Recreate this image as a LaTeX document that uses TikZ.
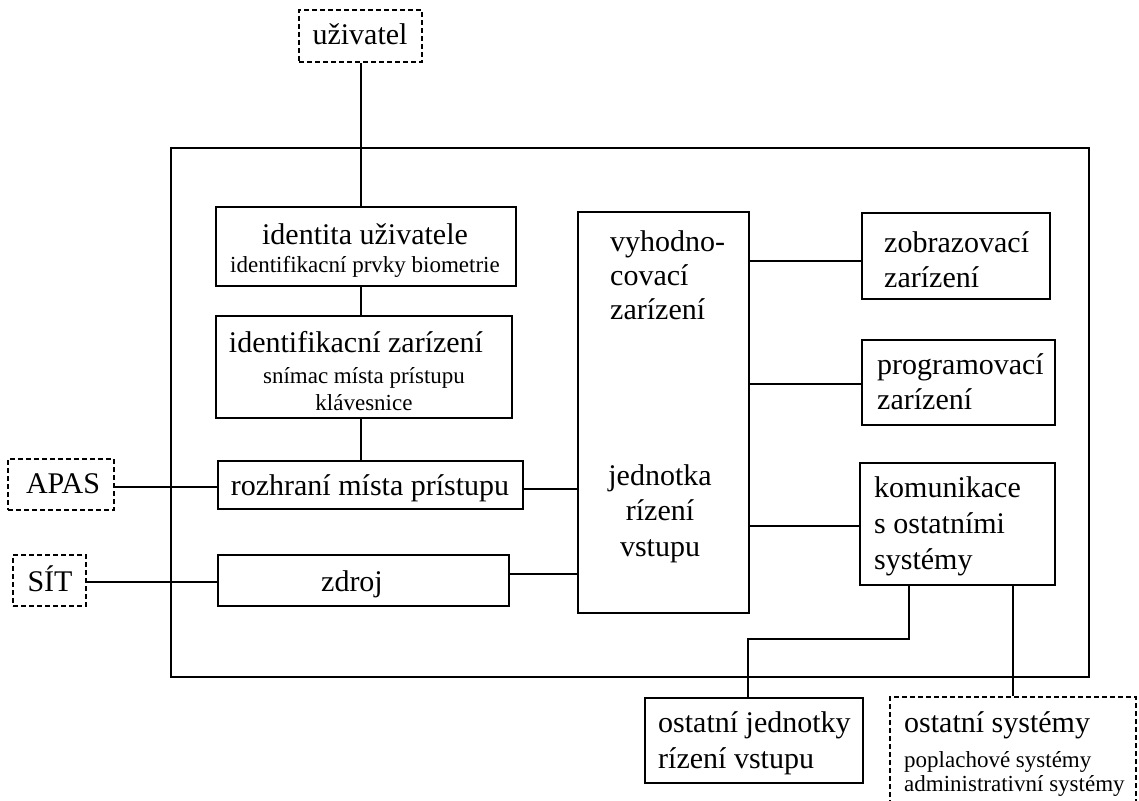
\documentclass[tikz,border=0pt]{standalone}
\usepackage{fontspec}
\setmainfont{Liberation Serif}
\newcommand\fbig{\fontsize{30}{36}\selectfont}
\newcommand\fsmall{\fontsize{23}{28}\selectfont}
\begin{document}
\begin{tikzpicture}[x=1pt,y=-1pt,
  box/.style={draw, line width=2pt, inner sep=0pt, minimum width=#1},
  dbox/.style={box=#1, line width=2.4pt, dash pattern=on 5pt off 3pt},
  wire/.style={line width=2pt},
  lbl/.style={inner sep=0pt, font=\fbig, anchor=base},
  lbll/.style={inner sep=0pt, font=\fbig, anchor=base west},
  slbl/.style={inner sep=0pt, font=\fsmall, anchor=base},
  slbll/.style={inner sep=0pt, font=\fsmall, anchor=base west}]
\useasboundingbox (0,0) rectangle (1139,800);

% boxes
\node[dbox=123pt, minimum height=52pt] (usr) at (360.5,36) {};
\node[box=918pt, minimum height=529pt] (sys) at (630,412.5) {};
\node[box=300pt, minimum height=79pt] (id) at (366,246.5) {};
\node[box=296pt, minimum height=102pt] (idz) at (364,367) {};
\node[box=305pt, minimum height=48pt] (roz) at (370.5,485) {};
\node[dbox=106pt, minimum height=51pt] (apas) at (61,484.5) {};
\node[dbox=73pt, minimum height=51pt] (sit) at (49.5,580.5) {};
\node[box=291pt, minimum height=51pt] (zd) at (363.5,580.5) {};
\node[box=171pt, minimum height=401pt] (cen) at (663.5,412.5) {};
\node[box=188pt, minimum height=86pt] (zob) at (956,256) {};
\node[box=193pt, minimum height=85pt] (prog) at (958.5,382.5) {};
\node[box=195pt, minimum height=122pt] (kom) at (957.5,524) {};
\node[box=218pt, minimum height=85pt] (oj) at (754,740.5) {};
\node[dbox=246pt, minimum height=133pt] (os) at (1013,763.5) {};

% texts
\node[lbl] (tusr) at (360,45) {uživatel};
\node[lbl] (tid1) at (365,244) {identita uživatele};
\node[slbl] (tid2) at (365,272) {identifikacní prvky biometrie};
\node[lbl] (tidz1) at (356,352) {identifikacní zarízení};
\node[slbl] (tidz2) at (364,383) {snímac místa prístupu};
\node[slbl] (tidz3) at (364,410) {klávesnice};
\node[lbl] (troz) at (370,495) {rozhraní místa prístupu};
\node[lbl] (tapas) at (63,493) {APAS};
\node[lbl] (tsit) at (50,591) {SÍT};
\node[lbl] (tzd) at (352,591) {zdroj};
\node[lbll] (tc1) at (610,251) {vyhodno-};
\node[lbll] (tc2) at (610,285) {covací};
\node[lbll] (tc3) at (610,319) {zarízení};
\node[lbl] (tj1) at (660,485) {jednotka};
\node[lbl] (tj2) at (660,520) {rízení};
\node[lbl] (tj3) at (660,556) {vstupu};
\node[lbll] (tzob1) at (884,252) {zobrazovací};
\node[lbll] (tzob2) at (884,287) {zarízení};
\node[lbll] (tpr1) at (877,374) {programovací};
\node[lbll] (tpr2) at (877,409) {zarízení};
\node[lbll] (tk1) at (874,497) {komunikace};
\node[lbll] (tk2) at (874,533) {s ostatními};
\node[lbll] (tk3) at (874,569) {systémy};
\node[lbll] (toj1) at (658,732) {ostatní jednotky};
\node[lbll] (toj2) at (658,768) {rízení vstupu};
\node[lbll] (tos1) at (904,732) {ostatní systémy};
\node[slbll] (tos2) at (904,767) {poplachové systémy};
\node[slbll] (tos3) at (904,791) {administrativní systémy};

% connectors
\draw[wire] (usr.south) -- (usr.south |- id.north);
\draw[wire] (usr.south |- id.south) -- (usr.south |- idz.north);
\draw[wire] (usr.south |- idz.south) -- (usr.south |- roz.north);
\draw[wire] (apas.east |- 0,487) -- (roz.west |- 0,487);
\draw[wire] ([yshift=-4pt]roz.east) -- ([yshift=-4pt]roz.east -| cen.west);
\draw[wire] ([yshift=-1.5pt]sit.east) -- ([yshift=-1.5pt]sit.east -| zd.west);
\draw[wire] ([yshift=6.5pt]zd.east) -- ([yshift=6.5pt]zd.east -| cen.west);
\draw[wire] ([yshift=-5pt]zob.west -| cen.east) -- ([yshift=-5pt]zob.west);
\draw[wire] ([yshift=-1.5pt]prog.west -| cen.east) -- ([yshift=-1.5pt]prog.west);
\draw[wire] ([yshift=-2pt]kom.west -| cen.east) -- ([yshift=-2pt]kom.west);
\draw[wire] ([xshift=-48.5pt]kom.south) |- ([xshift=-6pt,yshift=58pt]oj.north) -- ([xshift=-6pt]oj.north);
\draw[wire] ([xshift=55.5pt]kom.south) -- ([xshift=55.5pt]kom.south |- os.north);
\end{tikzpicture}
\end{document}
